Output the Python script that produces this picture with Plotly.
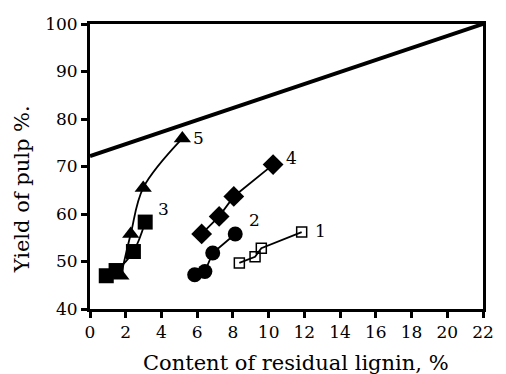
import plotly.graph_objects as go

# Data
s1_x = [8.36, 9.24, 9.59, 11.85]
s1_y = [49.7, 51.0, 52.8, 56.2]
s2_x = [5.86, 6.43, 6.87, 8.13]
s2_y = [47.2, 47.9, 51.8, 55.8]
s3_x = [0.91, 1.46, 2.43, 3.09]
s3_y = [47.0, 48.1, 52.1, 58.3]
s4_x = [6.25, 7.23, 8.05, 10.25]
s4_y = [55.8, 59.5, 63.7, 70.4]
s5_x = [1.73, 2.28, 2.98, 5.17]
s5_y = [47.0, 55.8, 65.5, 75.9]
limit_x = [0, 22]
limit_y = [72.2, 100]

labels = ["1", "2", "3", "4", "5"]
label_x = [12.9, 9.2, 4.1, 11.3, 6.1]
label_y = [56.5, 58.8, 61.1, 71.8, 76.0]

x_ticks = list(range(0, 23, 2))
y_ticks = list(range(40, 101, 10))

FONT = "DejaVu Serif"

fig = go.Figure()
fig.add_trace(go.Scatter(x=limit_x, y=limit_y, mode="lines",
                         line=dict(color="black", width=4), cliponaxis=False))
fig.add_trace(go.Scatter(x=s1_x, y=s1_y, mode="lines+markers",
                         line=dict(color="black", width=1.8),
                         marker=dict(symbol="square-open", size=10, color="black",
                                     line=dict(width=1.5, color="black"))))
fig.add_trace(go.Scatter(x=s2_x, y=s2_y, mode="lines+markers",
                         line=dict(color="black", width=1.8),
                         marker=dict(symbol="circle", size=15, color="black")))
fig.add_trace(go.Scatter(x=s4_x, y=s4_y, mode="lines+markers",
                         line=dict(color="black", width=1.8),
                         marker=dict(symbol="diamond", size=16, color="black")))
fig.add_trace(go.Scatter(x=s5_x, y=s5_y, mode="lines+markers",
                         line=dict(color="black", width=1.8, shape="spline"),
                         marker=dict(symbol="triangle-up", size=15, color="black")))
fig.add_trace(go.Scatter(x=s3_x, y=s3_y, mode="lines+markers",
                         line=dict(color="black", width=1.8, shape="spline"),
                         marker=dict(symbol="square", size=15, color="black")))

for t, lx, ly in zip(labels, label_x, label_y):
    fig.add_annotation(x=lx, y=ly, text=t, showarrow=False,
                       font=dict(family=FONT, size=17, color="black"))

fig.add_annotation(xref="paper", yref="paper", x=0.525, y=-0.188, yanchor="middle",
                   text="Content of residual lignin, %", showarrow=False,
                   font=dict(family=FONT, size=21, color="black"))
fig.add_annotation(xref="paper", yref="paper", x=-0.173, xanchor="center",
                   y=0.42, yanchor="middle", textangle=-90,
                   text="Yield of pulp %.", showarrow=False,
                   font=dict(family=FONT, size=21, color="black"))

axis_common = dict(showgrid=False, zeroline=False, showline=True, mirror=True,
                   linecolor="black", linewidth=3, ticks="outside", ticklen=6,
                   tickwidth=3, tickcolor="black",
                   tickfont=dict(family=FONT, size=17, color="black"))
fig.update_xaxes(range=[0, 22], tickvals=x_ticks, **axis_common)
fig.update_yaxes(range=[40, 100], tickvals=y_ticks, **axis_common)

fig.update_layout(width=506, height=374, showlegend=False,
                  plot_bgcolor="white", paper_bgcolor="white",
                  margin=dict(l=90, r=12, t=24, b=65))
fig.write_html("out.html")
